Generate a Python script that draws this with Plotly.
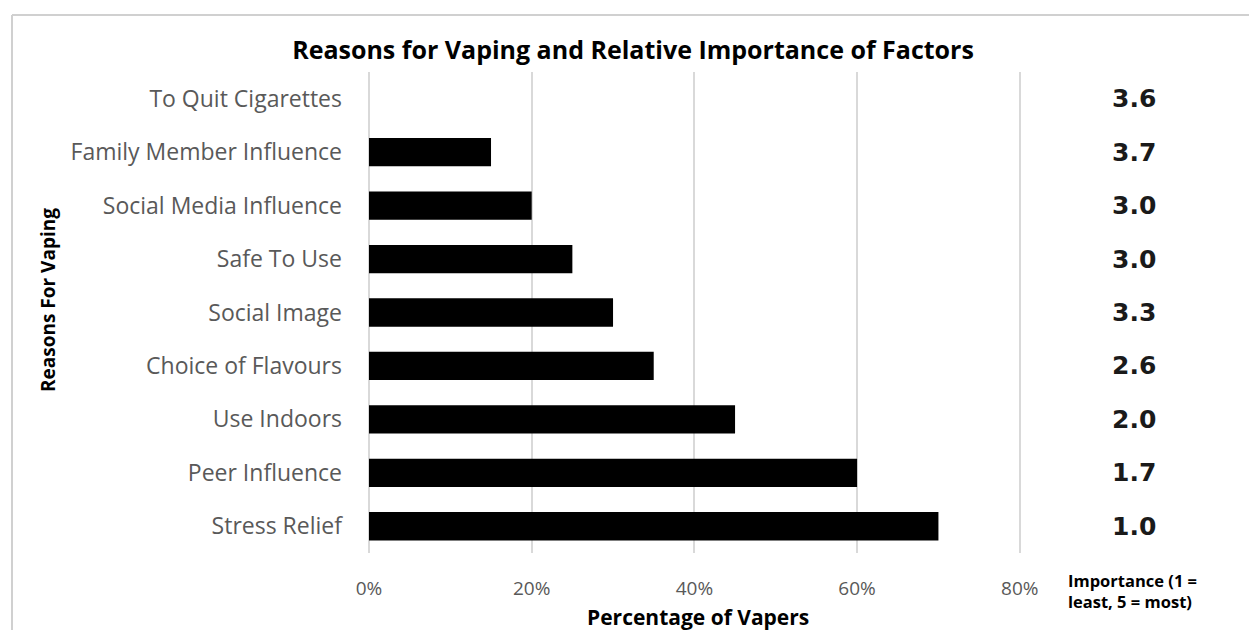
import plotly.graph_objects as go

# Reasons, listed bottom to top
reasons = ["Stress Relief", "Peer Influence", "Use Indoors", "Choice of Flavours",
           "Social Image", "Safe To Use", "Social Media Influence",
           "Family Member Influence", "To Quit Cigarettes"]
pct_vapers = [0.70, 0.60, 0.45, 0.35, 0.30, 0.25, 0.20, 0.15, 0.0]
importance = [1.0, 1.7, 2.0, 2.6, 3.3, 3.0, 3.0, 3.7, 3.6]
x_ticks = [0, 0.2, 0.4, 0.6, 0.8]
x_tick_labels = ["0%", "20%", "40%", "60%", "80%"]

FONT = "Open Sans"
GRAY = "#595959"

# plot area in pixels
L, R, T, B = 369, 1021, 72, 553
W, H = 1249, 630
pw, ph = R - L, B - T


def px_x(x):
    return (x - L) / pw


def px_y(y):
    return (B - y) / ph


fig = go.Figure()
fig.add_trace(go.Bar(
    y=reasons, x=pct_vapers, orientation="h",
    marker=dict(color="black", line=dict(width=0)),
    width=0.53,
    showlegend=False,
))

# Importance scores in a column right of the plot
for r, v in zip(reasons, importance):
    fig.add_annotation(
        x=px_x(1134), xref="paper", y=r, yref="y",
        text=f"<b>{v:.1f}</b>", showarrow=False,
        font=dict(family="DejaVu Sans", size=25, color="#1a1a1a"),
        xanchor="center", yanchor="middle",
    )

fig.add_annotation(
    x=px_x(1066), xref="paper", y=px_y(567), yref="paper",
    text="<b>Importance (1 =<br>least, 5 = most)</b>", showarrow=False,
    font=dict(family=FONT, size=16.5, color="black"),
    xanchor="left", yanchor="top", align="left",
)

# axis titles
fig.add_annotation(
    x=px_x(698), xref="paper", y=px_y(617), yref="paper",
    text="<b>Percentage of Vapers</b>", showarrow=False,
    font=dict(family=FONT, size=21, color="black"),
    xanchor="center", yanchor="middle",
)
fig.add_annotation(
    x=px_x(48), xref="paper", y=px_y(300), yref="paper",
    text="<b>Reasons For Vaping</b>", showarrow=False, textangle=-90,
    font=dict(family=FONT, size=19, color="black"),
    xanchor="center", yanchor="middle",
)

# Light frame around the chart area
fig.add_shape(type="line", xref="paper", yref="paper",
              x0=px_x(12), x1=px_x(W), y0=px_y(15), y1=px_y(15),
              line=dict(color="#d0d0d0", width=2))
fig.add_shape(type="line", xref="paper", yref="paper",
              x0=px_x(12), x1=px_x(12), y0=px_y(H), y1=px_y(15),
              line=dict(color="#d0d0d0", width=2))

fig.update_layout(
    width=W, height=H,
    margin=dict(l=L, r=W - R, t=T, b=H - B),
    paper_bgcolor="white", plot_bgcolor="white",
    title=dict(
        text="<b>Reasons for Vaping and Relative Importance of Factors</b>",
        x=633 / W, xanchor="center", y=1 - 50 / H, yanchor="middle",
        font=dict(family=FONT, size=25, color="black"),
    ),
    xaxis=dict(
        range=[0, 0.8015], tickvals=x_ticks, ticktext=x_tick_labels,
        showgrid=True, gridcolor="#d9d9d9", gridwidth=1.5,
        zeroline=True, zerolinecolor="#d9d9d9", zerolinewidth=1.5,
        ticks="", ticklabelstandoff=22,
        tickfont=dict(family=FONT, size=19, color=GRAY),
        fixedrange=True,
    ),
    yaxis=dict(
        categoryorder="array", categoryarray=reasons,
        range=[-0.5, 8.5], showgrid=False, ticks="",
        ticklabelstandoff=26,
        tickfont=dict(family=FONT, size=23, color=GRAY),
        fixedrange=True,
    ),
)

fig.write_html("out.html")
